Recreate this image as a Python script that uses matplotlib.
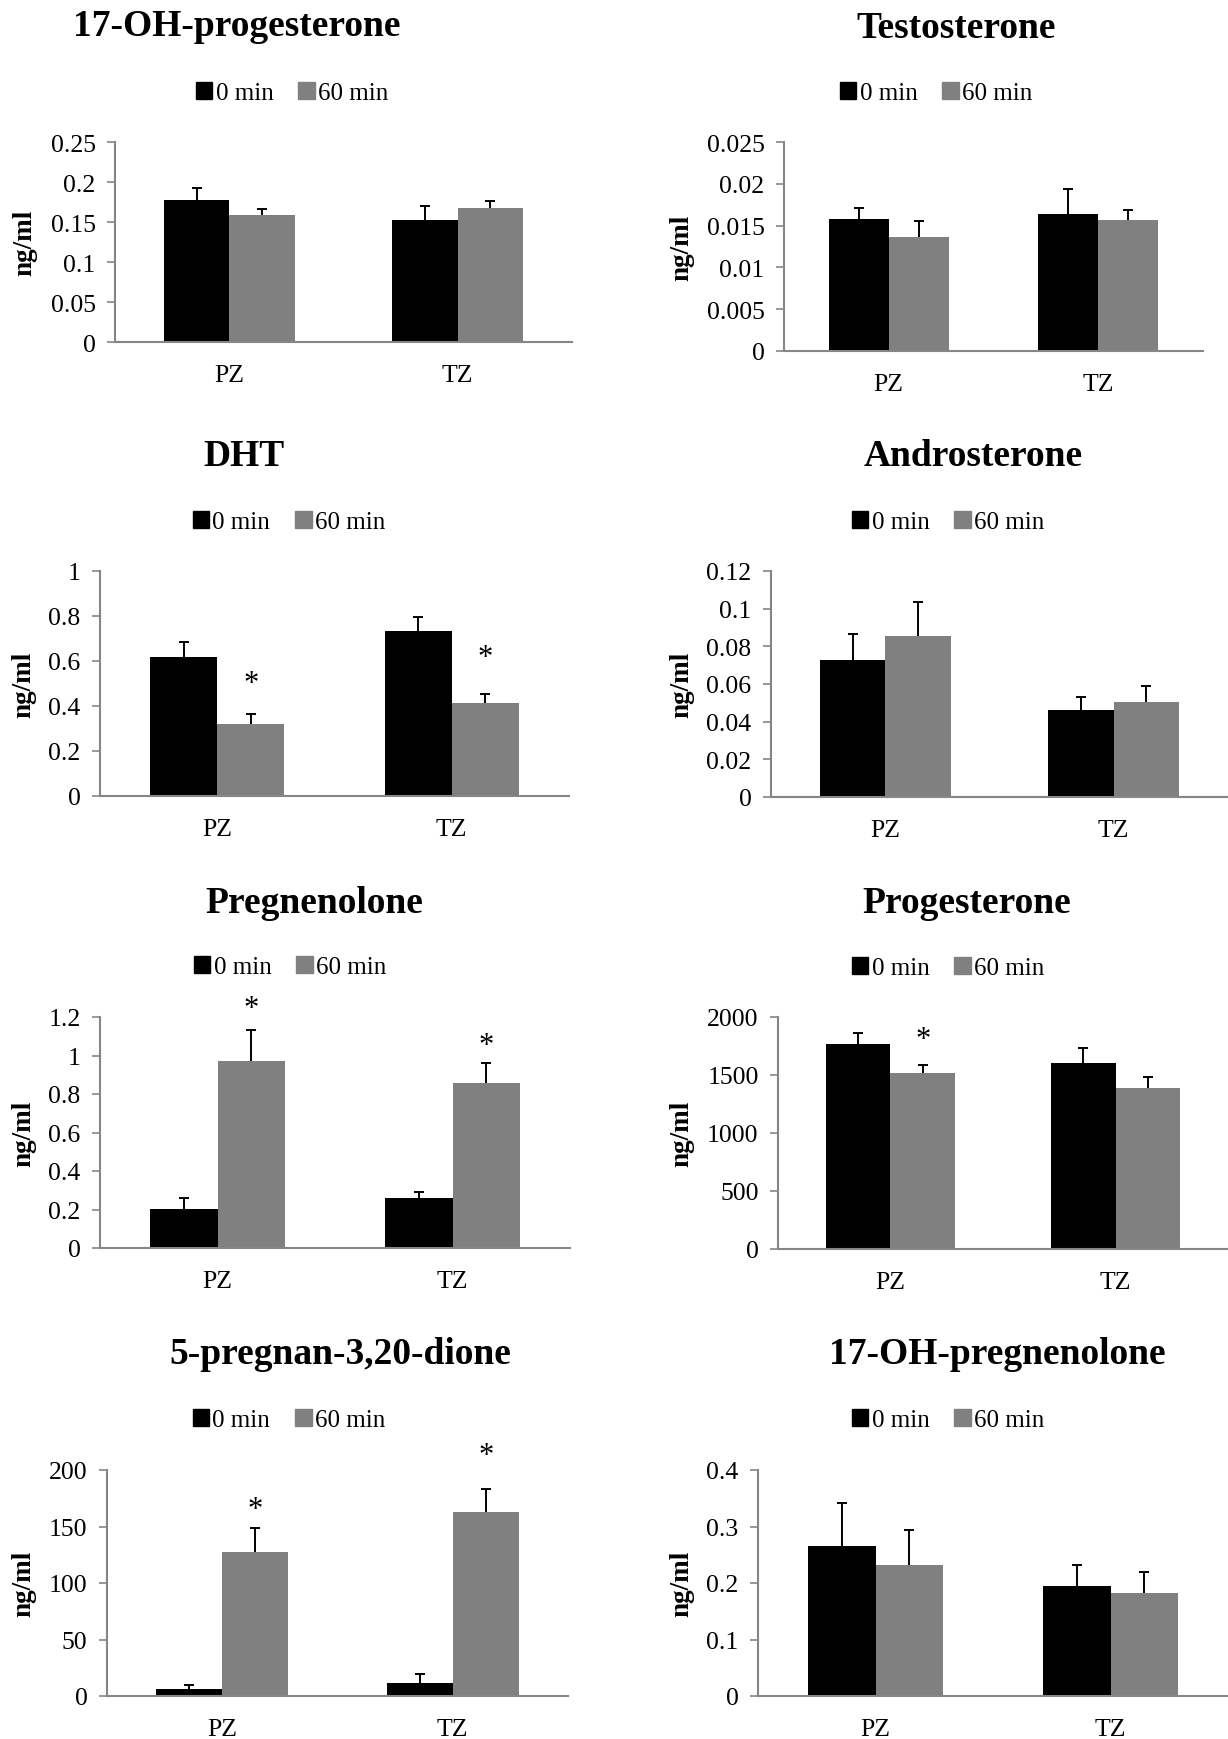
import numpy as np
import matplotlib.pyplot as plt
from matplotlib.patches import Patch

plt.rcParams['font.family'] = 'Liberation Serif'

# figure size in pixels (dpi 100)
W, H = 1228, 1740

zones = ['PZ', 'TZ']
series = ['0 min', '60 min']
titles = ['17-OH-progesterone', 'Testosterone', 'DHT', 'Androsterone',
          'Pregnenolone', 'Progesterone', '5-pregnan-3,20-dione', '17-OH-pregnenolone']
y_max = [0.25, 0.025, 1, 0.12, 1.2, 2000, 200, 0.4]
y_step = [0.05, 0.005, 0.2, 0.02, 0.2, 500, 50, 0.1]

# means (PZ, TZ)
mean_0 = [[0.177, 0.153], [0.0158, 0.0164], [0.616, 0.735], [0.0728, 0.0463],
          [0.201, 0.258], [1767, 1601], [6.5, 11.8], [0.265, 0.195]]
mean_60 = [[0.159, 0.167], [0.0136, 0.0157], [0.318, 0.415], [0.0856, 0.0502],
           [0.971, 0.856], [1515, 1389], [127, 162.5], [0.232, 0.183]]
# upper error bars
err_0 = [[0.015, 0.017], [0.0013, 0.003], [0.068, 0.061], [0.0138, 0.0066],
         [0.059, 0.033], [95, 130], [3, 7.4], [0.077, 0.037]]
err_60 = [[0.0075, 0.0095], [0.002, 0.0012], [0.045, 0.038], [0.018, 0.0087],
          [0.161, 0.105], [69, 98], [21.6, 20.7], [0.062, 0.037]]
# significance stars on the 60 min bars (PZ, TZ)
star_60 = [[False, False], [False, False], [True, True], [False, False],
           [True, True], [True, False], [True, True], [False, False]]

# layout in pixels: axes left, right, top, bottom; title xy; legend xy; ylabel x
layout = [
    dict(box=(115, 572, 143, 343), title=(237, 27), leg=(292, 94), ylab=25),
    dict(box=(784, 1203, 143, 352), title=(956, 28), leg=(936, 94), ylab=682),
    dict(box=(100, 569, 572, 797), title=(244, 457), leg=(289, 523), ylab=24),
    dict(box=(771, 1228, 572, 798), title=(973, 457), leg=(948, 523), ylab=682),
    dict(box=(100, 570, 1018, 1249), title=(314, 904), leg=(290, 968), ylab=24),
    dict(box=(778, 1228, 1018, 1250), title=(967, 904), leg=(948, 969), ylab=682),
    dict(box=(107, 568, 1471, 1697), title=(340, 1355), leg=(289, 1421), ylab=24),
    dict(box=(758, 1228, 1471, 1697), title=(997, 1355), leg=(948, 1421), ylab=682),
]
star_offsets = [[0, 0], [0, 0], [31, 37], [0, 0], [22, 18], [26, 0], [19, 33], [0, 0]]

c0, c60 = '#000000', '#808080'
axis_col = '#868686'
bw = 0.286


def upper_err(ax, xs, ys, errs):
    _, caps, _ = ax.errorbar(xs, ys, yerr=[np.zeros(len(ys)), errs], fmt='none',
                             ecolor='black', elinewidth=1.4, capsize=3.8, capthick=1.4)
    # drop the caps sitting on the bar tops
    for c in caps:
        if np.allclose(c.get_ydata(), ys):
            c.set_visible(False)


fig = plt.figure(figsize=(W / 100, H / 100), dpi=100)

for i, lay in enumerate(layout):
    L, R, T, B = lay['box']
    ax = fig.add_axes([L / W, 1 - B / H, (R - L) / W, (B - T) / H])
    x = np.arange(len(zones))
    ax.bar(x - bw / 2, mean_0[i], bw, color=c0)
    ax.bar(x + bw / 2, mean_60[i], bw, color=c60)
    upper_err(ax, x - bw / 2, mean_0[i], err_0[i])
    upper_err(ax, x + bw / 2, mean_60[i], err_60[i])
    for j in range(2):
        if star_60[i][j]:
            ax.annotate('*', (x[j] + bw / 2, mean_60[i][j] + err_60[i][j]),
                        xytext=(0, star_offsets[i][j] * 0.72), textcoords='offset points',
                        ha='center', va='center', fontsize=22)

    ax.set_xlim(-0.5, 1.5)
    ax.set_ylim(0, y_max[i])
    ticks = np.round(np.arange(0, y_max[i] + y_step[i] / 2, y_step[i]), 6)
    ax.set_yticks(ticks)
    ax.set_yticklabels(['{:g}'.format(t) for t in ticks])
    ax.set_xticks(x)
    ax.set_xticklabels(zones)
    ax.tick_params(axis='y', length=6, width=1.2, color=axis_col, pad=8, labelsize=18.5)
    ax.tick_params(axis='x', length=0, pad=16, labelsize=18.5)
    for s in ['top', 'right']:
        ax.spines[s].set_visible(False)
    for s in ['left', 'bottom']:
        ax.spines[s].set_color(axis_col)
        ax.spines[s].set_linewidth(1.5)

    tx, ty = lay['title']
    fig.text(tx / W, 1 - ty / H, titles[i], ha='center', va='center',
             fontsize=27, fontweight='bold')
    fig.text(lay['ylab'] / W, 1 - (T + B) / 2 / H, 'ng/ml', ha='center', va='center',
             rotation=90, fontsize=19.5, fontweight='bold')
    lx, ly = lay['leg']
    handles = [Patch(color=c0), Patch(color=c60)]
    ax.legend(handles, series, loc='center', bbox_to_anchor=(lx / W, 1 - ly / H),
              bbox_transform=fig.transFigure, ncol=2, frameon=False, fontsize=18,
              handlelength=0.65, handleheight=0.65, handletextpad=0.15,
              columnspacing=1.0, borderaxespad=0)

fig.savefig('out.png', dpi=100)
